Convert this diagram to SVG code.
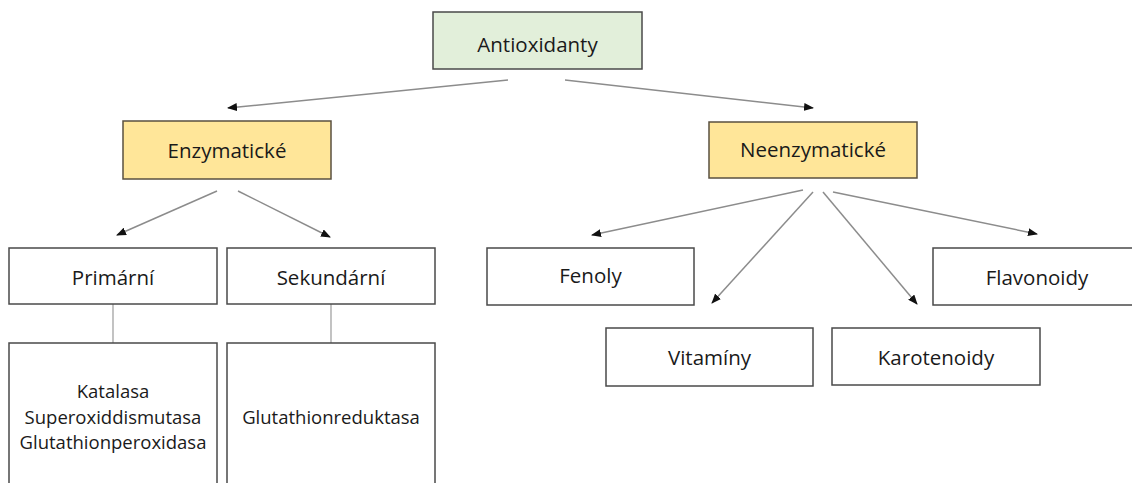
<svg xmlns="http://www.w3.org/2000/svg" width="1132" height="483" viewBox="0 0 1132 483">
<style>
.box{fill:#ffffff;stroke:#4a4a4a;stroke-width:1.5}
.root{fill:#e2efda;stroke:#4a4a4a;stroke-width:1.5}
.cat{fill:#ffe699;stroke:#5a5040;stroke-width:1.5}
.t{font-family:"Open Sans","Liberation Sans",sans-serif;font-size:20.5px;fill:#1a1a1a;text-anchor:middle}
.s{font-family:"Open Sans","Liberation Sans",sans-serif;font-size:18.5px;fill:#1a1a1a;text-anchor:middle}
.arr{stroke:#8c8c8c;stroke-width:1.5;fill:none;marker-end:url(#ah)}
.ln{stroke:#9a9a9a;stroke-width:1.2;fill:none}
</style>
<defs>
<marker id="ah" markerUnits="userSpaceOnUse" markerWidth="10" markerHeight="8" refX="9" refY="4" orient="auto">
<path d="M0,0 L10,4 L0,8 Z" fill="#111"/>
</marker>
</defs>
<rect width="1132" height="483" fill="#ffffff"/>
<g id="connectors">
<line class="arr" x1="508" y1="80" x2="228" y2="108"/>
<line class="arr" x1="565" y1="80" x2="813" y2="108"/>
<line class="arr" x1="217" y1="191" x2="117" y2="235"/>
<line class="arr" x1="238" y1="191" x2="330" y2="237"/>
<line class="arr" x1="803" y1="190" x2="592" y2="235"/>
<line class="arr" x1="813" y1="192" x2="712" y2="303"/>
<line class="arr" x1="823" y1="192" x2="917" y2="304"/>
<line class="arr" x1="833" y1="192" x2="1037" y2="234"/>
<line class="ln" x1="113" y1="304" x2="113" y2="343"/>
<line class="ln" x1="331" y1="304" x2="331" y2="343"/>
</g>
<g id="antioxidanty">
<rect class="root" x="433" y="12" width="209" height="57"/>
<text class="t" x="537.5" y="52">Antioxidanty</text>
</g>
<g id="enzymaticke">
<rect class="cat" x="123" y="121" width="208" height="58"/>
<text class="t" x="227" y="158">Enzymatické</text>
</g>
<g id="neenzymaticke">
<rect class="cat" x="709" y="122" width="208" height="56"/>
<text class="t" x="813" y="157">Neenzymatické</text>
</g>
<g id="primarni">
<rect class="box" x="9" y="248" width="208" height="56"/>
<text class="t" x="113" y="285">Primární</text>
</g>
<g id="sekundarni">
<rect class="box" x="227" y="248" width="208" height="56"/>
<text class="t" x="331" y="285">Sekundární</text>
</g>
<g id="primarni-list">
<rect class="box" x="9" y="343" width="208" height="150"/>
<text class="s" x="113" y="398">Katalasa</text>
<text class="s" x="113" y="424">Superoxiddismutasa</text>
<text class="s" x="113" y="449">Glutathionperoxidasa</text>
</g>
<g id="sekundarni-list">
<rect class="box" x="227" y="343" width="208" height="150"/>
<text class="s" x="331" y="424">Glutathionreduktasa</text>
</g>
<g id="fenoly">
<rect class="box" x="487" y="248" width="207" height="57"/>
<text class="t" x="590.5" y="283">Fenoly</text>
</g>
<g id="vitaminy">
<rect class="box" x="606" y="328" width="207" height="58"/>
<text class="t" x="709.5" y="365">Vitamíny</text>
</g>
<g id="karotenoidy">
<rect class="box" x="832" y="328" width="208" height="57"/>
<text class="t" x="936" y="365">Karotenoidy</text>
</g>
<g id="flavonoidy">
<rect class="box" x="933" y="248" width="208" height="57"/>
<text class="t" x="1037" y="285">Flavonoidy</text>
</g>
</svg>
